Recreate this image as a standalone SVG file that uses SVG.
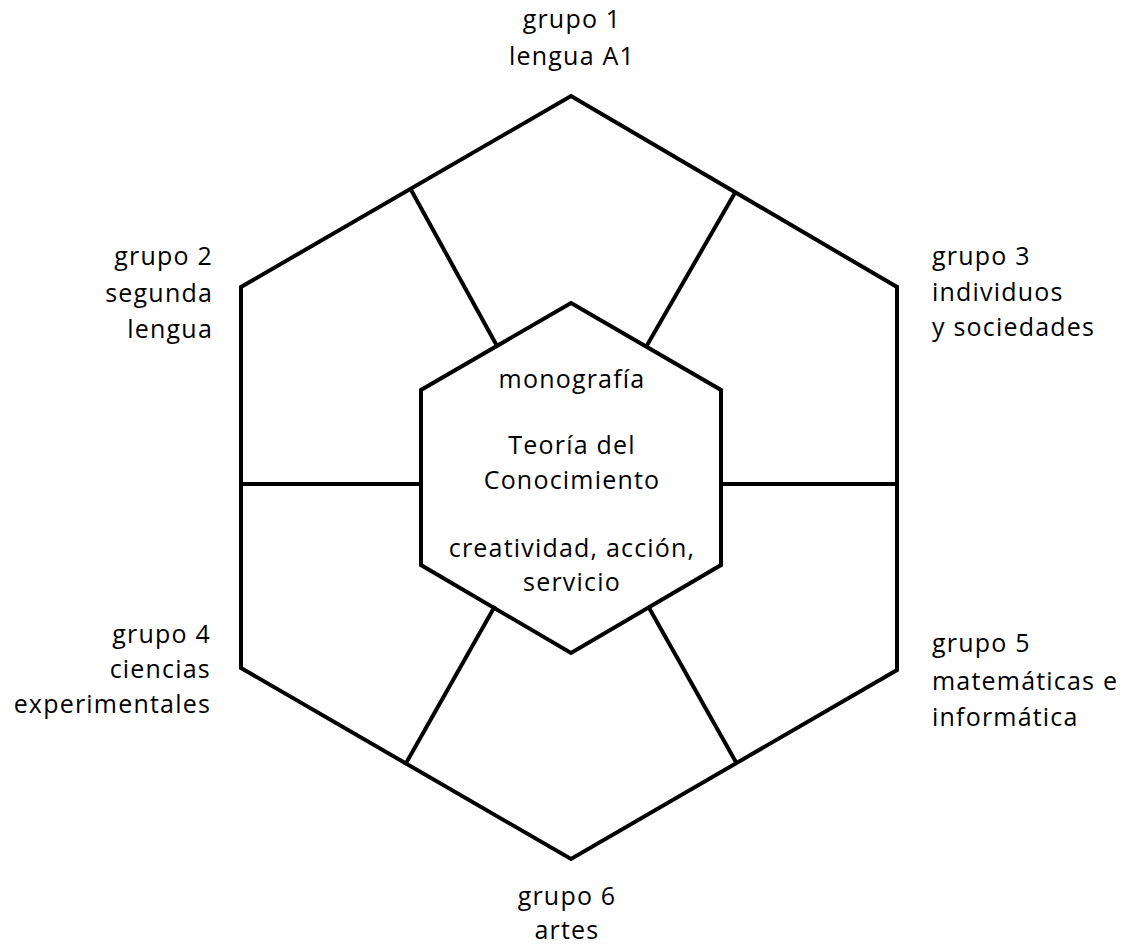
<svg xmlns="http://www.w3.org/2000/svg" width="1128" height="945" viewBox="0 0 1128 945">
<style>
.ln{fill:none;stroke:#000;stroke-width:4;stroke-linejoin:miter}
text{font-family:"Open Sans","Noto Sans",sans-serif;font-size:25px;letter-spacing:1.2px;fill:#000}
.m{text-anchor:middle}.e{text-anchor:end}.s{text-anchor:start}
</style>
<rect width="1128" height="945" fill="#fff"/>
<g id="outer"><polygon class="ln" points="571,96 897,287 897,670 571,859 241,668 241,287"/></g>
<g id="inner"><polygon class="ln" points="571,303 721,390 721,565 571,653 421,565 421,390"/></g>
<g id="connectors">
<line class="ln" x1="410" y1="188" x2="497" y2="346"/>
<line class="ln" x1="736" y1="191" x2="646" y2="347"/>
<line class="ln" x1="241" y1="484" x2="421" y2="484"/>
<line class="ln" x1="721" y1="484" x2="897" y2="484"/>
<line class="ln" x1="405" y1="765" x2="495" y2="606"/>
<line class="ln" x1="737" y1="764" x2="648" y2="606"/>
</g>
<g id="center">
<text class="m" x="572" y="388">monografía</text>
<text class="m" x="572" y="454">Teoría del</text>
<text class="m" x="572" y="489">Conocimiento</text>
<text class="m" x="572" y="557">creatividad, acción,</text>
<text class="m" x="572" y="591">servicio</text>
</g>
<g id="g1"><text class="m" x="572" y="28">grupo 1</text><text class="m" x="572" y="65">lengua A1</text></g>
<g id="g2"><text class="e" x="213" y="265">grupo 2</text><text class="e" x="213" y="302">segunda</text><text class="e" x="213" y="338">lengua</text></g>
<g id="g3"><text class="s" x="932" y="265">grupo 3</text><text class="s" x="932" y="301">individuos</text><text class="s" x="932" y="336">y sociedades</text></g>
<g id="g4"><text class="e" x="211" y="643">grupo 4</text><text class="e" x="211" y="678">ciencias</text><text class="e" x="211" y="713">experimentales</text></g>
<g id="g5"><text class="s" x="932" y="652">grupo 5</text><text class="s" x="932" y="690">matemáticas e</text><text class="s" x="932" y="726">informática</text></g>
<g id="g6"><text class="m" x="567" y="905">grupo 6</text><text class="m" x="567" y="939">artes</text></g>
</svg>
